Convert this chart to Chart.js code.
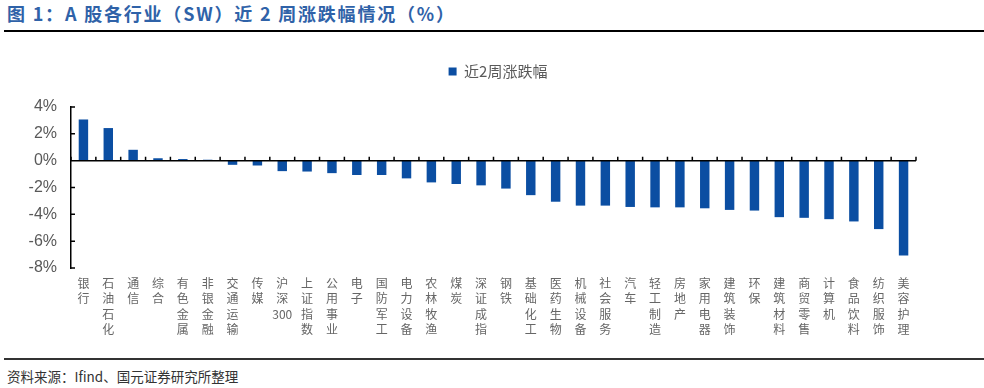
<!DOCTYPE html>
<html lang="zh-CN">
<head>
<meta charset="UTF-8" />
<title>A股各行业（SW）近2周涨跌幅情况</title>
<script src="https://cdn.jsdelivr.net/npm/chart.js"></script>
<style>
  html, body { margin: 0; padding: 0; background: #fff; }
  body { width: 984px; height: 388px; position: relative; overflow: hidden; font-family: "Noto Sans CJK SC", sans-serif; }
  #title { position: absolute; left: 7px; top: 2px; font-size: 18px; line-height: 22px; font-weight: 700; color: #2f62a8; letter-spacing: 1.8px; white-space: nowrap; }
  #topRule { position: absolute; left: 4px; right: 0; top: 30px; height: 2px; background: #000; }
  #chartBox { position: absolute; left: 0; top: 20px; width: 984px; height: 330px; }
  #bottomRule { position: absolute; left: 4px; right: 0; top: 358px; height: 2px; background: #333; }
  #source { position: absolute; left: 7px; top: 367px; font-size: 13.5px; line-height: 18px; color: #333; white-space: nowrap; }
</style>
</head>
<body>
<div id="title">图 1：A 股各行业（SW）近 2 周涨跌幅情况（%）</div>
<div id="topRule"></div>
<div id="chartBox"><canvas id="chart"></canvas></div>
<div id="bottomRule"></div>
<div id="source">资料来源：Ifind、国元证券研究所整理</div>

<script>
  // -------- 数据 -------- //
  const industries = [
    "银行", "石油石化", "通信", "综合", "有色金属", "非银金融", "交通运输", "传媒",
    "沪深300", "上证指数", "公用事业", "电子", "国防军工", "电力设备", "农林牧渔", "煤炭",
    "深证成指", "钢铁", "基础化工", "医药生物", "机械设备", "社会服务", "汽车", "轻工制造",
    "房地产", "家用电器", "建筑装饰", "环保", "建筑材料", "商贸零售", "计算机", "食品饮料",
    "纺织服饰", "美容护理"
  ];
  const change2w = [
    3.07, 2.43, 0.81, 0.18, 0.12, 0.07, -0.31, -0.36,
    -0.78, -0.81, -0.93, -1.07, -1.07, -1.32, -1.62, -1.74,
    -1.84, -2.08, -2.57, -3.06, -3.35, -3.35, -3.45, -3.48,
    -3.48, -3.55, -3.67, -3.72, -4.21, -4.26, -4.36, -4.53,
    -5.10, -7.06
  ];
  const seriesName = "近2周涨跌幅";
  const yMin = -8, yMax = 4, yStep = 2;

  // 竖排标签：每个字一行，数字保持一起
  function verticalLabel(s) {
    return s.match(/[0-9]+|./g);
  }

  // -------- 坐标轴刻度、零线 -------- //
  const axisMarks = {
    id: "axisMarks",
    afterDatasetsDraw(chart) {
      const { ctx, scales: { x, y } } = chart;
      const zero = y.getPixelForValue(0);
      const n = industries.length;
      ctx.save();
      ctx.strokeStyle = "#000";
      ctx.lineWidth = 1.5;
      ctx.beginPath();
      ctx.moveTo(x.left, zero);
      ctx.lineTo(x.right, zero);
      for (let i = 0; i <= n; i++) {
        const px = x.left + (x.right - x.left) * i / n;
        ctx.moveTo(px, zero);
        ctx.lineTo(px, zero - 4);
      }
      for (let v = yMin; v <= yMax; v += yStep) {
        const py = y.getPixelForValue(v);
        ctx.moveTo(y.right, py);
        ctx.lineTo(y.right + 4, py);
      }
      ctx.stroke();
      ctx.restore();
    }
  };

  Chart.defaults.font.family = '"Liberation Sans", "Noto Sans CJK SC", sans-serif';
  Chart.defaults.color = "#595959";

  new Chart(document.getElementById("chart"), {
    type: "bar",
    data: {
      labels: industries,
      datasets: [{
        label: seriesName,
        data: change2w,
        backgroundColor: "#0b4ea2",
        borderWidth: 0,
        barPercentage: 0.38,
        categoryPercentage: 1
      }]
    },
    plugins: [axisMarks],
    options: {
      responsive: true,
      maintainAspectRatio: false,
      animation: false,
      layout: { padding: { top: 15, right: 0, left: 12, bottom: 0 } },
      plugins: {
        legend: {
          labels: {
            boxWidth: 8,
            boxHeight: 8,
            padding: 29,
            font: { size: 15, family: '"Noto Sans CJK SC", sans-serif' },
            color: "#595959"
          }
        },
        tooltip: { enabled: false }
      },
      scales: {
        x: {
          grid: { display: false },
          border: { display: false },
          ticks: {
            autoSkip: false,
            maxRotation: 0,
            minRotation: 0,
            padding: 0,
            color: "#666",
            font: { size: 12, lineHeight: 1.27, family: '"Noto Sans CJK SC", sans-serif' },
            callback: (v, i) => verticalLabel(industries[i])
          },
          afterFit: (s) => { s.height = 82; }
        },
        // 仅用于留白的空轴
        xTop: {
          type: "linear",
          axis: "x",
          position: "top",
          grid: { display: false },
          border: { display: false },
          ticks: { display: false },
          afterFit: (s) => { s.height = 18; }
        },
        y: {
          min: yMin,
          max: yMax,
          grid: { display: false, drawTicks: false },
          border: { display: true, color: "#000", width: 1.5 },
          ticks: {
            stepSize: yStep,
            padding: 14,
            color: "#595959",
            font: { size: 16 },
            callback: (v) => v + "%"
          },
          afterFit: (s) => { s.width = 59; }
        },
        yRight: {
          type: "linear",
          axis: "y",
          position: "right",
          grid: { display: false },
          border: { display: false },
          ticks: { display: false },
          afterFit: (s) => { s.width = 68; }
        }
      }
    }
  });
</script>
</body>
</html>
